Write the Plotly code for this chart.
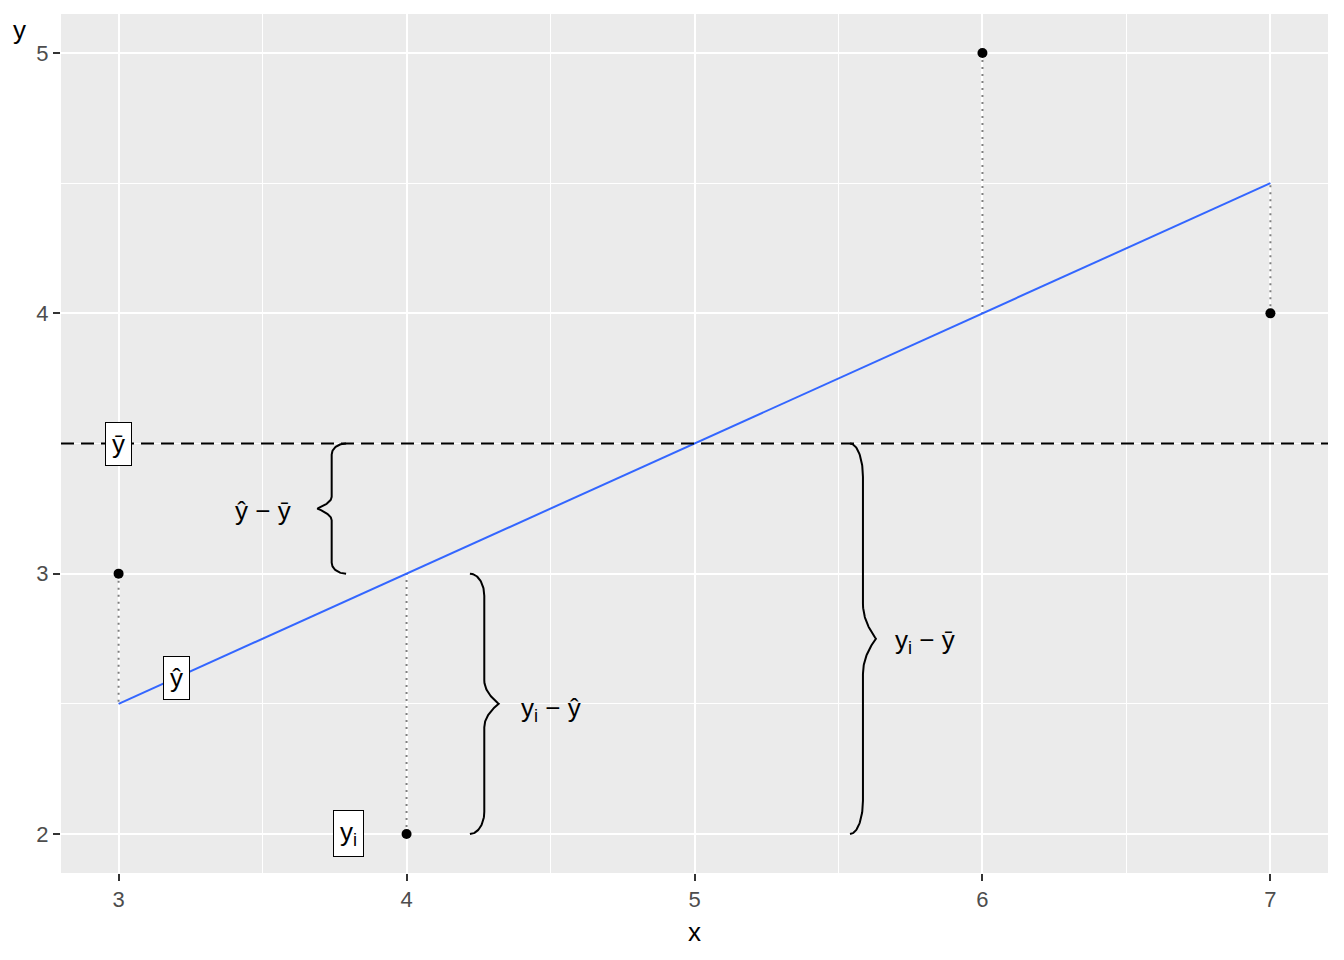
import numpy as np
import plotly.graph_objects as go

# observed data and the fitted values from the regression line
x_obs = [3, 4, 6, 7]
y_obs = [3, 2, 5, 4]
y_hat = [2.5, 3.0, 4.0, 4.5]
y_mean = 3.5

x_ticks = [3, 4, 5, 6, 7]
y_ticks = [2, 3, 4, 5]

# braces: (lower y, upper y, x at the ends, x at the tip)
brace_lo = [3.0, 2.0, 2.0]
brace_hi = [3.5, 3.0, 3.5]
brace_end = [3.79, 4.22, 5.54]
brace_tip = [3.69, 4.32, 5.63]

# text beside each brace
brace_text = ["ŷ − ȳ", "y<sub>i</sub> − ŷ", "y<sub>i</sub> − ȳ"]
brace_text_x = [3.5, 4.5, 5.8]
brace_text_y = [3.24, 2.48, 2.74]

# boxed labels
box_text = ["ȳ", "ŷ", "y<sub>i</sub>"]
box_x = [3.0, 3.2, 3.8]
box_y = [3.5, 2.6, 2.0]

FONT = "Liberation Sans, Arial, sans-serif"


def half_brace(xe, xt, ya, ym, c1=0.17, c2=0.18, n=30):
    xs = (xe + xt) / 2
    L = ym - ya
    th = np.linspace(0, np.pi / 2, n)
    x1 = xe + (xs - xe) * np.sin(th)
    y1 = ya + c1 * L * (1 - np.cos(th))
    u = np.linspace(0, 1, n)
    x3 = xs + (xt - xs) * u ** 2
    y3 = ya + (1 - c2) * L + c2 * L * u
    return np.concatenate([x1, x3]), np.concatenate([y1, y3])


def brace(xe, xt, lo, hi):
    ym = (lo + hi) / 2
    xa, ya = half_brace(xe, xt, lo, ym)
    xb, yb = half_brace(xe, xt, hi, ym)
    return np.concatenate([xa, xb[::-1]]), np.concatenate([ya, yb[::-1]])


fig = go.Figure()

# dotted residual segments
for xi, yi, fi in zip(x_obs, y_obs, y_hat):
    fig.add_trace(go.Scatter(x=[xi, xi], y=[yi, fi], mode="lines",
                             line=dict(color="#7F7F7F", width=2, dash="2px,5px"),
                             hoverinfo="skip"))

# regression line
fig.add_trace(go.Scatter(x=x_obs, y=y_hat, mode="lines",
                         line=dict(color="#3366FF", width=2)))

# points
fig.add_trace(go.Scatter(x=x_obs, y=y_obs, mode="markers",
                         marker=dict(color="black", size=10)))

# braces
for lo, hi, xe, xt in zip(brace_lo, brace_hi, brace_end, brace_tip):
    bx, by = brace(xe, xt, lo, hi)
    fig.add_trace(go.Scatter(x=bx, y=by, mode="lines",
                             line=dict(color="black", width=2)))

# mean line
fig.add_shape(type="line", xref="paper", x0=0, x1=1, y0=y_mean, y1=y_mean,
              line=dict(color="black", width=2, dash="13px,7px"))

for t, tx, ty in zip(brace_text, brace_text_x, brace_text_y):
    fig.add_annotation(x=tx, y=ty, text=t, showarrow=False,
                       xanchor="center", yanchor="middle",
                       font=dict(family=FONT, size=26, color="black"))

for t, tx, ty in zip(box_text, box_x, box_y):
    fig.add_annotation(x=tx, y=ty, text=t, showarrow=False,
                       xanchor="center", yanchor="middle",
                       font=dict(family=FONT, size=26, color="black"),
                       bgcolor="white", bordercolor="black", borderwidth=1,
                       borderpad=6)

# axis titles
fig.add_annotation(xref="paper", yref="paper", x=-0.0324, y=0.981, text="y",
                   xanchor="center", yanchor="middle", showarrow=False,
                   font=dict(family=FONT, size=26, color="black"))
fig.add_annotation(xref="paper", yref="paper", x=0.5, y=-0.0687, text="x",
                   xanchor="center", yanchor="middle", showarrow=False,
                   font=dict(family=FONT, size=26, color="black"))

axis_common = dict(
    showgrid=True, gridcolor="white", gridwidth=2,
    zeroline=False, showline=False,
    ticks="outside", ticklen=7, tickwidth=2, tickcolor="#333333",
    tickfont=dict(family=FONT, size=22, color="#4D4D4D"),
)

# the page puts the figure 8px in from the corner, so margins allow for that
fig.update_layout(
    width=1344, height=960,
    margin=dict(l=53, r=24, t=6, b=95),
    paper_bgcolor="white", plot_bgcolor="#EBEBEB",
    showlegend=False,
    xaxis=dict(range=[2.8, 7.2], tickvals=x_ticks,
               minor=dict(dtick=0.5, tick0=2.5, showgrid=True,
                          gridcolor="white", gridwidth=1, ticks=""),
               **axis_common),
    yaxis=dict(range=[1.85, 5.15], tickvals=y_ticks,
               minor=dict(dtick=0.5, tick0=1.5, showgrid=True,
                          gridcolor="white", gridwidth=1, ticks=""),
               **axis_common),
)

fig.write_html("out.html")
